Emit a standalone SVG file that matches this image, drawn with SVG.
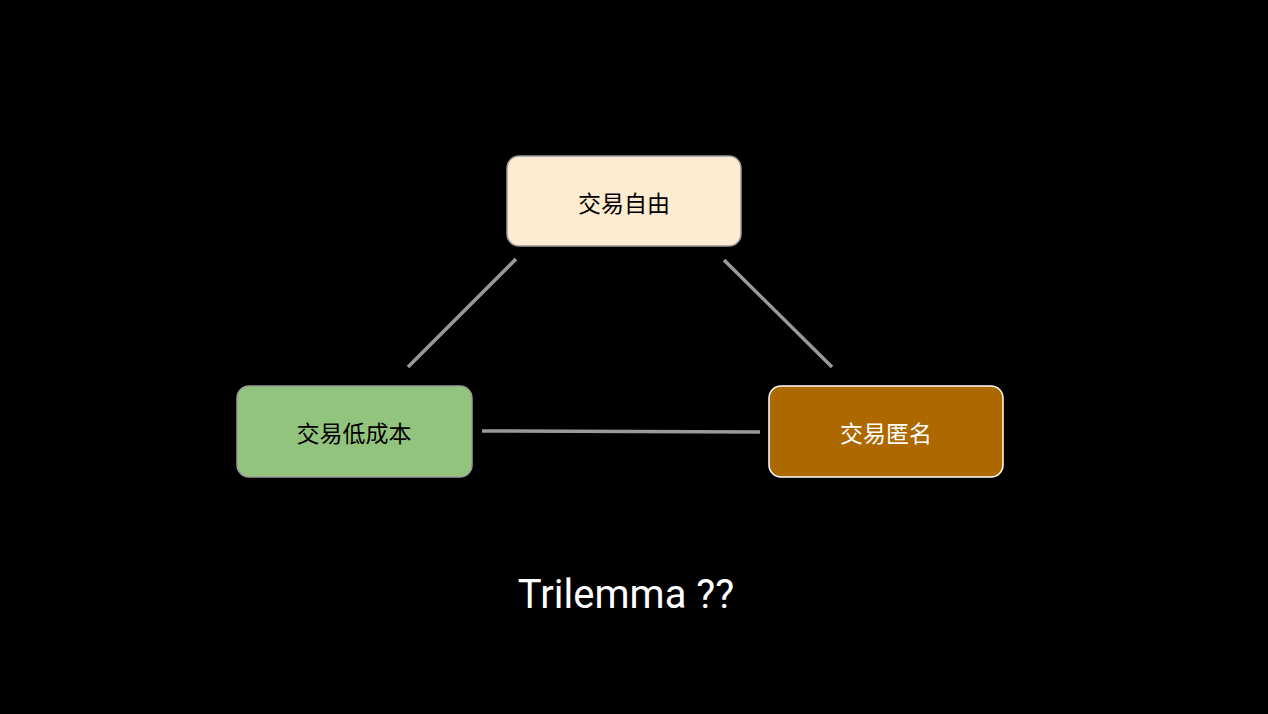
<svg xmlns="http://www.w3.org/2000/svg" width="1268" height="714" viewBox="0 0 1268 714">
<style>
.box{stroke-width:1.5}
.lbl{font-family:"Noto Sans CJK SC","Noto Serif CJK SC",serif;font-size:23px;text-anchor:middle;dominant-baseline:central}
.edge{stroke:#9a9a9a;stroke-width:3.5;fill:none}
</style>
<rect width="1268" height="714" fill="#000"/>
<g id="connectors">
<line class="edge" x1="516" y1="259" x2="408" y2="367"/>
<line class="edge" x1="724" y1="260" x2="832" y2="367"/>
<line class="edge" x1="482" y1="431" x2="760" y2="432"/>
</g>
<g id="n-freedom">
<rect class="box" x="507" y="156" width="234" height="90" rx="12" fill="#ffebd1" stroke="#999"/>
<text class="lbl" x="624" y="202" fill="#000">交易自由</text>
</g>
<g id="n-lowcost">
<rect class="box" x="237" y="386" width="235" height="91" rx="12" fill="#93c47d" stroke="#999"/>
<text class="lbl" x="354" y="432" fill="#000">交易低成本</text>
</g>
<g id="n-anon">
<rect class="box" x="769" y="386" width="234" height="91" rx="12" fill="#ae6800" stroke="#fff"/>
<text class="lbl" x="886" y="432" fill="#fff">交易匿名</text>
</g>
<text x="626" y="608" font-family="Roboto,'Open Sans',sans-serif" font-size="40" fill="#fff" text-anchor="middle">Trilemma ??</text>
</svg>
